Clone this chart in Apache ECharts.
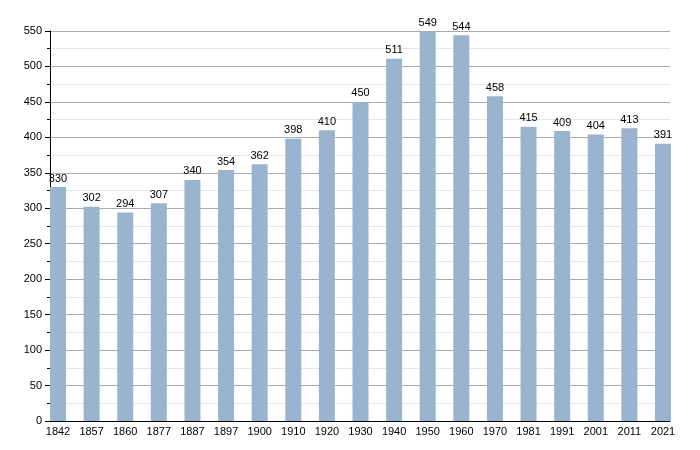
<!DOCTYPE html>
<html><head><meta charset="utf-8">
<script src="https://cdn.jsdelivr.net/npm/echarts@6/dist/echarts.min.js"></script>
<style>html,body{margin:0;padding:0;background:#fff}#c{width:700px;height:450px}</style>
</head><body><div id="c"></div>
<script>
const years = ['1842','1857','1860','1877','1887','1897','1900','1910','1920','1930','1940','1950','1960','1970','1981','1991','2001','2011','2021'];
const population = [330,302,294,307,340,354,362,398,410,450,511,549,544,458,415,409,404,413,391];
const yTicks = [0,50,100,150,200,250,300,350,400,450,500,550];

const chart = echarts.init(document.getElementById('c'), null, {renderer:'canvas'});
const font = 'Liberation Sans, Arial, sans-serif';
chart.setOption({
  animation:false,
  grid:[
    {left:50,right:30,top:31,bottom:29},
    {left:58,right:37,top:31,bottom:29}
  ],
  xAxis:[
    {gridIndex:0,type:'value',min:0,max:1,axisLine:{show:true,onZero:false,lineStyle:{color:'#000',width:1}},axisTick:{show:false},axisLabel:{show:false},splitLine:{show:false}},
    {gridIndex:1,type:'category',data:years,boundaryGap:false,axisLine:{show:false},axisTick:{show:false},
      axisLabel:{color:'#000',fontSize:11,fontFamily:font,margin:5,interval:0}}
  ],
  yAxis:[
    {gridIndex:0,type:'value',min:yTicks[0],max:yTicks[yTicks.length-1],interval:50,
      axisLine:{show:true,lineStyle:{color:'#000',width:1}},
      axisTick:{show:true,length:5,lineStyle:{color:'#000'}},
      minorTick:{show:true,splitNumber:2,length:3,lineStyle:{color:'#000'}},
      splitLine:{show:true,lineStyle:{color:'#aaaaaa',width:1}},
      minorSplitLine:{show:true,lineStyle:{color:'#e6e6e6',width:1}},
      axisLabel:{color:'#000',fontSize:11,fontFamily:font,margin:8}},
    {gridIndex:1,type:'value',min:0,max:550,show:false,splitLine:{show:false}}
  ],
  series:[{
    type:'bar',xAxisIndex:1,yAxisIndex:1,data:population,barWidth:16,clip:false,
    itemStyle:{color:'#9ab4d0'},
    label:{show:true,position:'top',distance:3,color:'#000',fontSize:11,fontFamily:font}
  }]
});
</script></body></html>
